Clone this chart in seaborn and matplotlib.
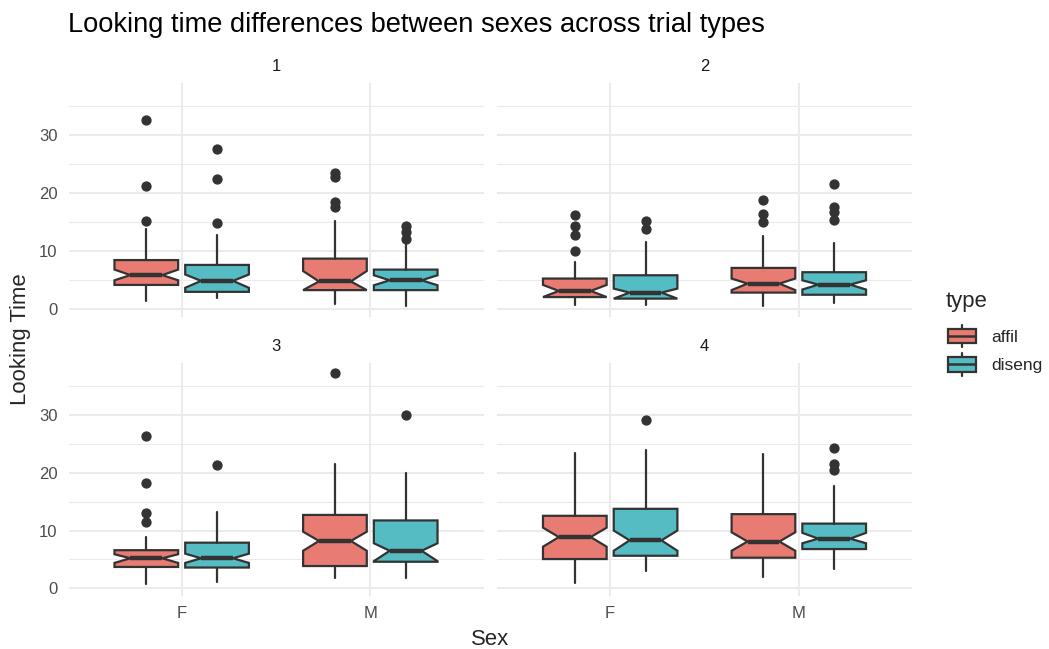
"""
Notched boxplots of looking time by sex and trial type, one facet per trial.
"""
import numpy as np
import pandas as pd
import matplotlib
matplotlib.use("Agg")
import matplotlib.pyplot as plt
from matplotlib.patches import Rectangle, Patch
from matplotlib.lines import Line2D
from matplotlib.legend_handler import HandlerBase
from matplotlib.ticker import MultipleLocator
import seaborn as sns

trials = [1, 2, 3, 4]
sexes = ["F", "M"]
types = ["affil", "diseng"]
type_colors = {"affil": "#E87C72", "diseng": "#54BCC2"}

# box summaries, order: trial -> sex -> type
box_q1 = [4.1, 2.9, 3.2, 3.2,
          2.0, 1.73, 2.77, 2.4,
          3.7, 3.6, 3.86, 4.6,
          5.07, 5.64, 5.3, 6.8]
box_median = [5.8, 4.8, 4.7, 4.9,
              3.06, 2.77, 4.33, 4.15,
              5.2, 5.2, 8.2, 6.5,
              8.87, 8.3, 8.1, 8.6]
box_q3 = [8.4, 7.56, 8.65, 6.75,
          5.2, 5.77, 7.04, 6.3,
          6.6, 7.9, 12.7, 11.75,
          12.55, 13.76, 12.84, 11.2]
whisker_lo = [1.4, 1.85, 0.87, 0.46,
              0.7, 0.7, 0.46, 1.0,
              0.75, 1.15, 1.84, 1.84,
              0.98, 3.05, 2.0, 3.3]
whisker_hi = [13.7, 12.8, 15.1, 11.25,
              8.0, 11.5, 12.5, 11.4,
              8.8, 13.2, 21.6, 20.0,
              23.45, 24.0, 23.3, 17.7]
notch_lo = [4.9, 3.6, 3.2, 4.04,
            2.0, 1.73, 3.2, 3.3,
            4.4, 4.4, 6.5, 4.7,
            7.2, 6.5, 6.5, 7.8]
notch_hi = [6.75, 5.9, 6.5, 5.77,
            4.1, 3.46, 5.2, 4.9,
            5.9, 6.0, 9.8, 7.8,
            10.5, 10.0, 9.7, 9.6]
outliers = [[15.2, 21.2, 32.7], [14.8, 22.4, 27.7],
            [17.6, 18.5, 22.8, 23.4], [12.0, 13.3, 14.25],
            [10.0, 12.7, 14.3, 16.15], [13.85, 15.2],
            [15.0, 16.4, 18.75], [15.3, 16.7, 17.6, 21.6],
            [11.5, 13.1, 18.2, 26.4], [21.35],
            [37.2], [30.0],
            [], [29.1],
            [], [20.55, 21.5, 24.35]]

LINE = "#333333"
TICK = "#4D4D4D"
GRID = "#EBEBEB"
W, H = 1049, 649

rows = [(t, s, ty) for t in trials for s in sexes for ty in types]
df = pd.DataFrame(rows, columns=["trial", "Sex", "type"])
df["q1"] = box_q1
df["med"] = box_median
df["q3"] = box_q3
df["lo"] = whisker_lo
df["hi"] = whisker_hi
df["cilo"] = notch_lo
df["cihi"] = notch_hi
df["fliers"] = outliers

dodge = [-0.1875, 0.1875]
box_width = 0.3375


def draw_boxes(data, **kws):
    ax = plt.gca()
    for r in data.itertuples():
        x = sexes.index(r.Sex) + dodge[types.index(r.type)]
        stats = [dict(med=r.med, q1=r.q1, q3=r.q3, whislo=r.lo, whishi=r.hi,
                      cilo=r.cilo, cihi=r.cihi, fliers=r.fliers)]
        ax.bxp(stats, positions=[x], widths=box_width, patch_artist=True,
               shownotches=True, showcaps=False, manage_ticks=False,
               boxprops=dict(facecolor=type_colors[r.type], edgecolor=LINE, linewidth=1.6),
               whiskerprops=dict(color=LINE, linewidth=1.6),
               medianprops=dict(color=LINE, linewidth=3.2, solid_capstyle="butt"),
               flierprops=dict(marker="o", markerfacecolor=LINE, markeredgecolor=LINE,
                               markersize=6.4, linestyle="none"))


class BoxKeyHandler(HandlerBase):
    """Legend key that looks like a little boxplot"""
    def create_artists(self, legend, orig_handle, xdescent, ydescent, width, height, fontsize, trans):
        x0, y0 = -xdescent, -ydescent
        bh = height * 0.65
        by = y0 + (height - bh) / 2
        xm = x0 + width / 2
        wt = Line2D([xm, xm], [by + bh, y0 + height], color=LINE, lw=1.6, transform=trans)
        wb = Line2D([xm, xm], [y0, by], color=LINE, lw=1.6, transform=trans)
        rect = Rectangle((x0, by), width, bh, facecolor=orig_handle.get_facecolor(),
                         edgecolor=LINE, lw=1.6, transform=trans)
        med = Line2D([x0, x0 + width], [y0 + height / 2] * 2, color=LINE, lw=1.8,
                     solid_capstyle="butt", transform=trans)
        return [wt, wb, rect, med]


sns.set_theme(style="whitegrid")
plt.rcParams["font.family"] = ["Liberation Sans", "DejaVu Sans"]

g = sns.FacetGrid(df, col="trial", col_wrap=2, sharex=True, sharey=True,
                  height=3, aspect=1.5, despine=False)
g.map_dataframe(draw_boxes)
fig = g.figure
fig.set_size_inches(W / 100, H / 100)
fig.set_dpi(100)
fig.subplots_adjust(left=68.5 / W, right=912 / W, top=1 - 83 / H, bottom=1 - 596.3 / H,
                    wspace=13.5 / 415, hspace=46.1 / 233.3)

all_vals = whisker_lo + whisker_hi + [v for o in outliers for v in o]
lo, hi = min(all_vals), max(all_vals)
pad = 0.05 * (hi - lo)

for i, ax in enumerate(g.axes.flat):
    ax.set_facecolor("white")
    for sp in ax.spines.values():
        sp.set_visible(False)
    ax.set_xlim(-0.6, 1.6)
    ax.set_ylim(lo - pad, hi + pad)
    ax.set_xticks(range(len(sexes)))
    ax.set_xticklabels(sexes)
    ax.set_yticks([0, 10, 20, 30])
    ax.yaxis.set_minor_locator(MultipleLocator(5))
    ax.grid(which="major", color=GRID, linewidth=1.5)
    ax.grid(which="minor", axis="y", color=GRID, linewidth=0.8)
    ax.set_axisbelow(True)
    ax.tick_params(which="both", length=0, colors=TICK, labelsize=12)
    ax.tick_params(axis="y", pad=8)
    ax.tick_params(axis="x", pad=7)
    ax.tick_params(labelbottom=(i >= 2), labelleft=(i % 2 == 0))
    ax.set_title("")
    ax.set_xlabel("")
    ax.set_ylabel("")
    ax.text(0.5, 1.0686, str(trials[i]), transform=ax.transAxes, ha="center", va="center",
            fontsize=12, color="#1A1A1A")

fig.text(68.5 / W, 1 - 32 / H, "Looking time differences between sexes across trial types",
         fontsize=19.6, color="black", ha="left", va="baseline")
fig.text(490 / W, 1 - 645 / H, "Sex", fontsize=15.9, ha="center", va="baseline")
fig.text(21 / W, 1 - 339.5 / H, "Looking Time", fontsize=15.9, rotation=90,
         ha="center", va="center")

fig.text(946 / W, 1 - 306.5 / H, "type", fontsize=15.9, ha="left", va="baseline")
handles = [Patch(facecolor=type_colors[t]) for t in types]
fig.legend(handles=handles, labels=types, handler_map={Patch: BoxKeyHandler()},
           loc="upper left", bbox_to_anchor=(948 / W, 1 - 324.6 / H), frameon=False,
           fontsize=12.5, handlelength=1.6, handleheight=1.65, labelspacing=0.3,
           handletextpad=0.9, borderpad=0, borderaxespad=0)

fig.savefig("out.png", dpi=100, facecolor="white")
